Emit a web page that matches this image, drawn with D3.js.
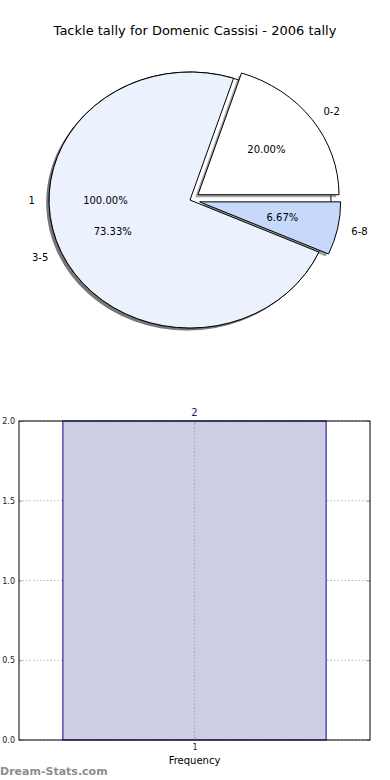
<!DOCTYPE html>
<html>
<head>
<meta charset="utf-8">
<script src="https://cdn.jsdelivr.net/npm/d3@7"></script>
<style>
  body { margin: 0; background: #fff; }
  svg { display: block; font-family: "DejaVu Sans", sans-serif; }
</style>
</head>
<body>
<div id="chart"></div>
<script>
// Tackle tally pie (top) + frequency bar (bottom)

const title = "Tackle tally for Domenic Cassisi - 2006 tally";

// pie data
const pieLabels = ["0-2", "3-5", "6-8"];
const pieValues = [3, 11, 1];
const pieColors = ["#ffffff", "#ebf1fd", "#c6d9fb"];
const pieExplode = [0.07, 0, 0.07];

// the extra single-slice pie that sits under the main one
const basePieLabels = ["1"];
const basePieValues = [1];

// bar data
const barCategories = [1];
const barValues = [2];
const yTicks = [0, 0.5, 1.0, 1.5, 2.0];

const W = 390, H = 780;
const svg = d3.select("#chart").append("svg")
    .attr("width", W)
    .attr("height", H);

// Title
svg.append("text")
    .attr("x", 195)
    .attr("y", 35)
    .attr("text-anchor", "middle")
    .style("font-size", "13px")
    .text(title);

// ---------- pie ----------
let pcx = 190, pcy = 200, prx = 141, pry = 128;
let px = d3.scaleLinear().domain([-1, 1]).range([pcx - prx, pcx + prx]);
let py = d3.scaleLinear().domain([-1, 1]).range([pcy + pry, pcy - pry]);

// matplotlib-style angles: counter-clockwise from 3 o'clock
let pie = d3.pie().sort(null).startAngle(0).endAngle(2 * Math.PI);
let arc = d3.arc().innerRadius(0).outerRadius(1);

function wedgePath(a){
    return arc({startAngle: Math.PI / 2 - a.endAngle, endAngle: Math.PI / 2 - a.startAngle});
}

function placeLabels(slices, labels, explode){
    let total = d3.sum(slices, d => d.value);
    slices.forEach((a, i) => {
        let mid = (a.startAngle + a.endAngle) / 2;
        let e = explode ? explode[i] : 0;
        let cx = Math.cos(mid), cy = Math.sin(mid);
        // outer label
        let lx = (1.1 + e) * cx;
        svg.append("text")
            .attr("x", px(lx))
            .attr("y", py((1.1 + e) * cy))
            .attr("dy", "0.35em")
            .attr("text-anchor", lx > 0 ? "start" : "end")
            .style("font-size", "10px")
            .text(labels[i]);
        // percentage
        svg.append("text")
            .attr("x", px((0.6 + e) * cx))
            .attr("y", py((0.6 + e) * cy))
            .attr("dy", "0.35em")
            .attr("text-anchor", "middle")
            .style("font-size", "10px")
            .text((a.value / total * 100).toFixed(2) + "%");
    });
}

let pieG = svg.append("g");

// base pie (full ellipse)
let baseSlices = pie(basePieValues);
baseSlices.forEach(a => {
    pieG.append("path")
        .attr("d", wedgePath(a))
        .attr("transform", "translate(" + px(-0.02) + "," + py(-0.02) + ") scale(" + prx + "," + pry + ")")
        .style("fill", "#4d4d4d")
        .style("opacity", 0.5);
    pieG.append("path")
        .attr("d", wedgePath(a))
        .attr("transform", "translate(" + px(0) + "," + py(0) + ") scale(" + prx + "," + pry + ")")
        .attr("vector-effect", "non-scaling-stroke")
        .style("fill", "#ffffff")
        .style("stroke", "#000")
        .style("stroke-width", 1);
});

let slices = pie(pieValues);

// shadows first
slices.forEach((a, i) => {
    let mid = (a.startAngle + a.endAngle) / 2;
    let e = pieExplode[i];
    let c = d3.rgb(pieColors[i]);
    pieG.append("path")
        .attr("d", wedgePath(a))
        .attr("transform", "translate(" + px(e * Math.cos(mid) - 0.02) + "," + py(e * Math.sin(mid) - 0.02) + ") scale(" + prx + "," + pry + ")")
        .style("fill", d3.rgb(c.r * 0.3, c.g * 0.3, c.b * 0.3))
        .style("opacity", 0.5);
});

slices.forEach((a, i) => {
    let mid = (a.startAngle + a.endAngle) / 2;
    let e = pieExplode[i];
    pieG.append("path")
        .attr("d", wedgePath(a))
        .attr("transform", "translate(" + px(e * Math.cos(mid)) + "," + py(e * Math.sin(mid)) + ") scale(" + prx + "," + pry + ")")
        .attr("vector-effect", "non-scaling-stroke")
        .style("fill", pieColors[i])
        .style("stroke", "#000")
        .style("stroke-width", 1);
});

placeLabels(baseSlices, basePieLabels, null);
placeLabels(slices, pieLabels, pieExplode);

// ---------- bar chart ----------
let margin = {top: 421, right: 20, bottom: 40, left: 19};
let x = d3.scaleLinear().domain([0.5, 1.5]).range([margin.left, W - margin.right]);
let y = d3.scaleLinear().domain([0, 2]).range([740, margin.top]);
let barWidth = 0.75;

let barG = svg.append("g");

// gridlines
barG.selectAll(".hgrid")
    .data(yTicks)
    .enter().append("line")
    .attr("x1", x(0.5)).attr("x2", x(1.5))
    .attr("y1", d => y(d)).attr("y2", d => y(d))
    .style("stroke", "#b8b8b8")
    .style("stroke-dasharray", "1.5,2");

// bars
barG.selectAll(".bar")
    .data(barCategories)
    .enter().append("rect")
    .attr("x", (d) => x(d - barWidth / 2))
    .attr("y", (d, i) => y(barValues[i]))
    .attr("width", (d) => x(d + barWidth / 2) - x(d - barWidth / 2))
    .attr("height", (d, i) => y(0) - y(barValues[i]))
    .style("fill", "#cdcde6")
    .style("stroke", "#0a0a8c")
    .style("stroke-width", 1);

barG.selectAll(".vgrid")
    .data(barCategories)
    .enter().append("line")
    .attr("x1", d => x(d)).attr("x2", d => x(d))
    .attr("y1", y(0)).attr("y2", y(2))
    .style("stroke", "#a8a8a8")
    .style("stroke-dasharray", "1.5,2");

// value labels
barG.selectAll(".barLabel")
    .data(barCategories)
    .enter().append("text")
    .attr("x", d => x(d))
    .attr("y", (d, i) => y(barValues[i]) - 5)
    .attr("text-anchor", "middle")
    .style("font-size", "10px")
    .style("fill", "#1a1a6e")
    .text((d, i) => barValues[i]);

// axes (ticks inward)
let yAxis = barG.append("g")
    .attr("transform", "translate(" + x(0.5) + ",0)")
    .call(d3.axisLeft(y).tickValues(yTicks).tickFormat(d3.format(".1f")).tickSize(-3).tickPadding(4));
let yAxisR = barG.append("g")
    .attr("transform", "translate(" + x(1.5) + ",0)")
    .call(d3.axisRight(y).tickValues(yTicks).tickFormat("").tickSize(-3));
let xAxis = barG.append("g")
    .attr("transform", "translate(0," + y(0) + ")")
    .call(d3.axisBottom(x).tickValues(barCategories).tickFormat(d3.format("d")).tickSize(-3).tickPadding(4));
let xAxisT = barG.append("g")
    .attr("transform", "translate(0," + y(2) + ")")
    .call(d3.axisTop(x).tickValues(barCategories).tickFormat("").tickSize(-3));

[yAxis, yAxisR, xAxis, xAxisT].forEach(g => {
    g.selectAll(".domain").remove();
    g.selectAll(".tick line").style("stroke", "#999");
    g.selectAll("text").style("font-size", "8px").style("font-family", "DejaVu Sans").style("fill", "#222");
});

// frame
barG.append("rect")
    .attr("x", x(0.5)).attr("y", y(2))
    .attr("width", x(1.5) - x(0.5)).attr("height", y(0) - y(2))
    .style("fill", "none")
    .style("stroke", "#000")
    .style("stroke-width", 1);

// x label
svg.append("text")
    .attr("x", x(1))
    .attr("y", 764)
    .attr("text-anchor", "middle")
    .style("font-size", "10px")
    .text("Frequency");

// watermark
svg.append("text")
    .attr("x", 0)
    .attr("y", 775)
    .style("font-size", "11px")
    .style("font-weight", "bold")
    .style("fill", "#8c8c8c")
    .text("Dream-Stats.com");
</script>
</body>
</html>
